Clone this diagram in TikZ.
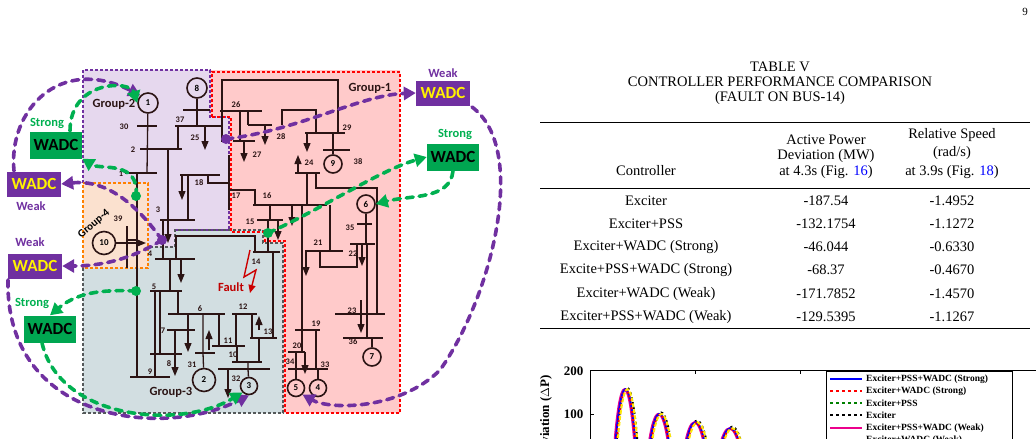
\documentclass[tikz,border=0pt]{standalone}
\usepackage{fontspec}
\setmainfont{Liberation Serif}
\newfontfamily\cali{Carlito}
\usetikzlibrary{arrows.meta}
\definecolor{bc}{HTML}{2B1414}
\definecolor{gpur}{HTML}{7030A0}
\definecolor{ggrn}{HTML}{00B050}
\definecolor{wgrn}{HTML}{00A651}
\definecolor{lav}{HTML}{E6D8EE}
\definecolor{peach}{HTML}{FBE1CF}
\definecolor{teal}{HTML}{D2DEE1}
\definecolor{pinkr}{HTML}{FFCACA}
\tikzset{
 bus/.style={line width=2.2pt,bc},
 ln/.style={line width=1.3pt,bc},
 ld/.style={line width=1.3pt,bc,-{Triangle[length=9pt,width=7pt]}},
 gen/.style={circle,draw=bc,line width=1.6pt,inner sep=0pt,minimum size=#1,font=\cali\bfseries\fontsize{9}{9}\selectfont},
 lab/.style={font=\cali\bfseries\fontsize{8.5}{8.5}\selectfont,bc},
 wadcp/.style={fill=gpur,text=yellow,font=\cali\bfseries\fontsize{17}{17}\selectfont,minimum width=54pt,minimum height=25pt,inner sep=1pt},
 wadcg/.style={fill=wgrn,text=black,font=\cali\bfseries\fontsize{17}{17}\selectfont,minimum width=52pt,minimum height=27pt,inner sep=1pt},
 pc/.style={gpur,line width=3.6pt,dash pattern=on 7pt off 6pt,line cap=round,-{Triangle[length=12pt,width=13pt]}},
 gc/.style={ggrn,line width=3.6pt,dash pattern=on 7pt off 6pt,line cap=round,-{Triangle[length=12pt,width=13pt]}},
 tab/.style={font=\fontsize{14.5}{16}\selectfont,align=center},
 sl/.style={solid}, dt/.style={dash pattern=on 3pt off 3pt},
 grp/.style={font=\cali\bfseries\fontsize{12.5}{12.5}\selectfont},
}
\begin{document}
\begin{tikzpicture}[x=1pt,y=-1pt]
\useasboundingbox (0,0) rectangle (1036,439);
\clip (0,0) rectangle (1036,439);
% regions
\fill[lav] (83,70)--(210,70)--(210,117)--(229,117)--(229,230)--(175,230)--(175,247)--(148,247)--(148,183)--(83,183)--cycle;
\fill[peach] (83,183)--(148,183)--(148,268)--(83,268)--cycle;
\fill[teal] (83,268)--(83,413)--(283,413)--(283,243)--(263,243)--(263,230)--(175,230)--(175,247)--(148,247)--(148,268)--cycle;
\fill[pinkr] (210,70)--(400,70)--(400,413)--(283,413)--(283,243)--(263,243)--(263,230)--(229,230)--(229,117)--(210,117)--cycle;
\draw[gpur,line width=1.4pt,dash pattern=on 3pt off 2pt] (83,183)--(83,70)--(210,70)--(210,117)--(229,117)--(229,230)--(175,230);
\draw[orange,line width=1.4pt,dash pattern=on 3pt off 2pt] (83,183)--(148,183)--(148,268)--(83,268)--cycle;
\draw[teal!40!black,line width=1.4pt,dash pattern=on 3pt off 2pt] (83,268)--(83,413)--(283,413)--(283,243)--(263,243)--(263,230)--(175,230)--(175,247)--(148,247);
\draw[red,line width=1.4pt,dash pattern=on 3pt off 2pt] (212,117)--(212,72)--(400,72)--(400,413)--(285,413)--(285,241)--(265,241)--(265,232)--(231,232)--(231,117)--cycle;
\node[grp,bc] at (114,104) {Group-2};
\node[grp,bc] at (370,88) {Group-1};
\node[grp,bc] at (171,392) {Group-3};
\node[font=\cali\bfseries\fontsize{11}{11}\selectfont,black,rotate=40] at (94,224) {Group-4};
% generators
\node[gen=20pt,fill=lav] (g1) at (148,103) {1};
\node[gen=20pt,fill=lav] (g8) at (197,88) {8};
\node[gen=18pt,fill=pinkr] (g9) at (333,164) {9};
\node[gen=18pt,fill=pinkr] (g6) at (366,204) {6};
\node[gen=23pt,fill=peach] (g10) at (104,243) {10};
\node[gen=23pt,fill=teal] (g2) at (204,380) {2};
\node[gen=17pt,fill=teal] (g3) at (249,386) {3};
\node[gen=17pt,fill=pinkr] (g5) at (296,388) {5};
\node[gen=17pt,fill=pinkr] (g4) at (318,388) {4};
\node[gen=18pt,fill=pinkr] (g7) at (372,357) {7};
% lines group 2/4/3
\draw[ln] (g1)--(147,173);
\draw[ln] (168,149)--(168,220); \draw[ld] (168,220)--(168,243);
\draw[ln] (137,173)--(137,377);
\draw[ln] (g8)--(197,126);
\draw[ln] (178,126)--(178,149);
\draw[ln] (210,126)--(222,126)--(222,141)--(229,141);
\draw[ld] (205,126)--(205,150);
\draw[ln] (208,175)--(208,183)--(229,183);
\draw[ln] (188,175)--(188,220);
\draw[ld] (182,175)--(182,200);
\draw[ln] (163,220)--(163,259);
\draw[ln] (170,259)--(170,291);
\draw[ld] (181,259)--(181,283);
\draw[ln] (176,259)--(176,236)--(255,236)--(255,252);
\draw[ln] (155,291)--(155,377);
\draw[ln] (160,291)--(160,354);
\draw[ln] (178,291)--(178,314);
\draw[ld] (188,314)--(188,352);
\draw[ln] (175,330)--(175,354);
\draw[ld] (175,354)--(175,376);
\draw[ln] (203,314)--(203,353)--(g2);
\draw[ld] (209,350)--(209,330);
\draw[ln] (219,314)--(219,346);
\draw[ln] (237,346)--(237,362);
\draw[ln] (236,314)--(236,346);
\draw[ld] (259,330)--(259,316);
\draw[ln] (252,314)--(252,338);
\draw[ln] (273,338)--(273,252);
\draw[ln] (259,362)--(259,338);
\draw[ln] (248,362)--(248,369)--(g3);
\draw[ld] (228,369)--(228,398);
\draw[ln] (268,252)--(268,220);
\draw[ln] (137,240)--(127,240);
\draw[ln,-{Triangle[length=9pt,width=7pt]}] (g10)--(146,243);
% red region lines
\draw[ln] (222,111)--(222,80)--(338,80)--(338,133);
\draw[ln] (240,111)--(240,141);
\draw[ld] (244,141)--(244,162);
\draw[ln] (248,111)--(248,125);
\draw[ld] (265,125)--(265,145);
\draw[ln] (282,125)--(282,110)--(316,110)--(316,133);
\draw[ln] (222,111)--(222,141);
\draw[ld] (307,133)--(307,152);
\draw[ln] (333,133)--(333,150)--(g9);
\draw[ld] (298,173)--(298,155);
\draw[ln] (307,173)--(307,205);
\draw[ln] (316,173)--(316,188)--(377,188)--(377,244);
\draw[ln] (g6)--(366,244);
\draw[ld] (362,244)--(362,266);
\draw[ln] (229,190)--(255,190)--(255,205);
\draw[ln] (270,205)--(270,220);
\draw[ld] (292,205)--(292,226);
\draw[ln] (330,205)--(330,251);
\draw[ln] (302,205)--(302,330);
\draw[ld] (278,220)--(278,240);
\draw[ld] (306,251)--(306,276);
\draw[ln] (320,251)--(320,267)--(357,267)--(357,244);
\draw[ln] (367,244)--(367,338);
\draw[ln] (377,244)--(377,314);
\draw[ld] (361,300)--(361,333);
\draw[ln] (372,338)--(g7);
\draw[ln] (302,330)--(302,352);
\draw[ln] (316,330)--(316,369);
\draw[ld] (305,352)--(305,374);
\draw[ln] (296,352)--(296,369)--(g5);
\draw[ln] (318,369)--(g4);
% buses
\foreach \a/\b/\y in {137/157/126,140/182/149,125/157/173,175/218/126,183/210/110,160/195/220,180/220/175,155/195/259,150/182/291,168/225/314,167/195/330,150/182/354,130/170/377,195/215/353,212/245/346,232/262/362,218/270/369,232/257/314,250/277/338,253/280/252,220/262/111,305/345/133,248/272/125,233/255/141,295/320/173,323/350/150,253/327/205,257/283/220,305/343/251,350/375/244,357/372/224,335/385/314,343/383/338,295/320/330,288/305/352,288/304/369,307/328/369}
  \draw[bus] (\a,\y)--(\b,\y);
\draw[bus] (229,155)--(229,210);
\draw[bus] (127,226)--(127,268);
% bus labels
\foreach \t/\x/\y in {30/124/127,2/133/150,1/121/174,39/118/219,37/180/120,25/195/138,18/199/183,3/158/210,4/150/254,5/154/287,6/200/309,7/163/331,8/169/364,9/150/372,31/192/365,11/228/341,10/233/355,32/236/379,12/243/307,13/268/332,14/256/262,15/250/222,26/236/105,29/347/128,28/281/137,27/257/155,24/309/163,38/358/162,17/236/196,16/267/196,21/318/243,22/353/254,35/350/228,23/352/311,36/353/342,19/316/324,20/297/346,34/290/362,33/325/365}
  \node[lab] at (\x,\y) {\t};
% fault
\draw[red!80!black,line width=1.4pt,-{Triangle[length=8pt,width=7pt]}] (250,250)--(244,277)--(256,270)--(250,293);
\node[grp,red!75!black] at (231,287) {Fault};
% WADC boxes
\node[wadcg] (s1) at (56,145) {WADC};
\node[grp,ggrn] at (47,123) {Strong};
\node[wadcp] (w1) at (34,184) {WADC};
\node[grp,gpur] at (31,206) {Weak};
\node[wadcp] (w2) at (35,266) {WADC};
\node[grp,gpur] at (30,242) {Weak};
\node[wadcg] (s2) at (50,329) {WADC};
\node[grp,ggrn] at (32,303) {Strong};
\node[wadcp] (w3) at (443,93) {WADC};
\node[grp,gpur] at (443,73) {Weak};
\node[wadcg] (s3) at (453,157) {WADC};
\node[grp,ggrn] at (455,134) {Strong};
% dots
\coordinate (dp1) at (162,240);
\coordinate (dp2) at (226,139);
\coordinate (dg1) at (136,196);
\coordinate (dg2) at (136,291);
\coordinate (dg3) at (268,233);
\foreach \c in {dp1,dp2} \fill[gpur] (\c) circle (5pt);
\foreach \c in {dg1,dg2,dg3} \fill[ggrn] (\c) circle (5pt);
% purple curves
\draw[pc] (14,171) .. controls (8,110) and (60,55) .. (g1.north west);
\draw[pc] (dp1) .. controls (130,195) and (100,180) .. (w1.east);
\draw[pc] (dp1) .. controls (130,260) and (100,266) .. (w2.east);
\draw[pc] (8,280) .. controls (5,420) and (160,440) .. (g3.south);
\draw[pc] (dp2) .. controls (300,130) and (360,95) .. (w3.west);
\draw[pc] (472,107) .. controls (530,150) and (490,300) .. (440,370) .. controls (400,410) and (330,410) .. (g5.south east);
% green curves
\draw[gc] (dg1) .. controls (140,160) and (100,170) .. (s1.south east);
\draw[gc] (70,131) .. controls (70,80) and (130,80) .. (g1.west);
\draw[gc] (dg2) .. controls (110,290) and (80,290) .. (s2.north);
\draw[gc] (42,343) .. controls (60,420) and (180,430) .. (g3.south west);
\draw[gc] (dg3) .. controls (320,210) and (380,170) .. (s3.west);
\draw[gc] (453,171) .. controls (450,200) and (410,195) .. (g6.east);
% page number
\node[font=\fontsize{11}{11}\selectfont] at (1025,12) {9};
% table
\node[tab] at (780,67) {TABLE V};
\node[tab] at (780,82) {CONTROLLER PERFORMANCE COMPARISON};
\node[tab] at (780,98) {(FAULT ON BUS-14)};
\draw[line width=0.8pt] (540,122)--(1030,122);
\draw[line width=0.5pt] (540,188)--(1030,188);
\draw[line width=0.8pt] (540,328)--(1030,328);
\node[tab] at (646,171) {Controller};
\node[tab] at (826,140) {Active Power};
\node[tab] at (826,156) {Deviation (MW)};
\node[tab] at (826,172) {at 4.3s (Fig. \textcolor{blue}{16})};
\node[tab] at (952,135) {Relative Speed};
\node[tab] at (952,153) {(rad/s)};
\node[tab] at (952,172) {at 3.9s (Fig. \textcolor{blue}{18})};
\foreach \a/\b/\c/\y in {Exciter/-187.54/-1.4952/201,Exciter+PSS/-132.1754/-1.1272/224,Exciter+WADC (Strong)/-46.044/-0.6330/247,Excite+PSS+WADC (Strong)/-68.37/-0.4670/270,Exciter+WADC (Weak)/-171.7852/-1.4570/294,Exciter+PSS+WADC (Weak)/-129.5395/-1.1267/317}
 {\node[tab] at (646,\y) {\a}; \node[tab] at (826,\y) {\b}; \node[tab] at (952,\y) {\c};}
% plot
\draw[line width=0.6pt] (590,450)--(590,370)--(1040,370);
\foreach \x in {695,800,905} \draw[line width=0.5pt] (\x,370)--(\x,374);
\draw (590,414)--(594,414);
\node[font=\bfseries\fontsize{13}{13}\selectfont,anchor=east] at (587,371) {200};
\node[font=\bfseries\fontsize{13}{13}\selectfont,anchor=east] at (587,414) {100};
\node[font=\bfseries\fontsize{13}{13}\selectfont,rotate=90,anchor=east] at (546,372) {Deviation ($\Delta$P)};
\begin{scope}
\clip (591,371) rectangle (824,439);
\foreach \px/\py in {627/380,661/413,697/424,732/432}{
 \draw[black,line width=2pt,dash pattern=on 2pt off 3pt] (\px-11,450) .. controls (\px-5,\py-13) and (\px+5,\py-13) .. (\px+11,450);
 \draw[magenta,line width=2.2pt] (\px-13,450) .. controls (\px-7,\py-11) and (\px+2,\py-11) .. (\px+8,450);
 \draw[blue,line width=2pt] (\px-12,450) .. controls (\px-6,\py-11) and (\px+3,\py-11) .. (\px+9,450);
 \draw[red,line width=2pt,dash pattern=on 2pt off 2pt] (\px-11,450) .. controls (\px-5,\py-10) and (\px+3,\py-10) .. (\px+9,450);
 \draw[yellow!90!orange,line width=2pt,dash pattern=on 4pt off 2pt] (\px-10,450) .. controls (\px-4,\py-11) and (\px+5,\py-11) .. (\px+11,450);
}
\end{scope}
\draw[line width=0.6pt,fill=white] (826,371) rectangle (1012,445);
\foreach \cc/\ss/\t/\y in {blue/sl/Exciter+PSS+WADC (Strong)/379,red/dt/Exciter+WADC (Strong)/391,green!50!black/dt/Exciter+PSS/403,black/dt/Exciter/415,magenta/sl/Exciter+PSS+WADC (Weak)/428,red!30!black/dt/Exciter+WADC (Weak)/440}{
 \draw[\cc,line width=2.4pt,\ss] (830,\y)--(862,\y);
 \node[font=\bfseries\fontsize{9.5}{10}\selectfont,anchor=west,inner sep=1pt] at (865,\y) {\t};
}
\end{tikzpicture}
\end{document}
